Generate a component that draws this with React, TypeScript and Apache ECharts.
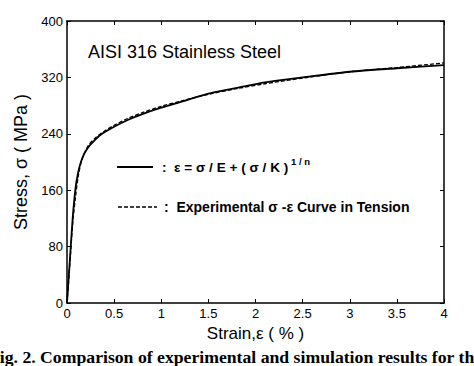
import React, { useEffect, useRef } from "react";
import * as echarts from "echarts";

const xTicks = [0, 0.5, 1, 1.5, 2, 2.5, 3, 3.5, 4];
const yTicks = [0, 80, 160, 240, 320, 400];

const modelStrain = [0, 0.03, 0.06, 0.08, 0.1, 0.13, 0.17, 0.22, 0.28, 0.35, 0.5, 0.65, 0.8, 1.0, 1.2, 1.5, 1.8, 2.1, 2.5, 3.0, 3.5, 4.0];
const modelStress = [0, 60, 120, 150, 172, 192, 208, 220, 229, 238, 250, 260, 268, 277, 285, 297, 305, 313, 320, 328, 333, 337.5];

const expStrain = [0, 0.03, 0.06, 0.09, 0.12, 0.16, 0.22, 0.3, 0.4, 0.5, 0.65, 0.8, 1.0, 1.2, 1.5, 1.8, 2.1, 2.5, 3.0, 3.5, 4.0];
const expStress = [0, 55, 112, 150, 180, 204, 222, 234, 244, 252, 262, 270, 279, 286, 296, 304, 311, 319, 328, 334, 340.5];

const FONT = "'Liberation Sans', Arial, sans-serif";

export default function App() {
  const ref = useRef<HTMLDivElement>(null);
  useEffect(() => {
    if (!ref.current) return;
    const chart = echarts.init(ref.current, undefined, { renderer: "svg" });
    const axisLine = { show: true, onZero: false, lineStyle: { color: "#000", width: 1.5 } };
    const axisTick = { show: true, inside: true, length: 4, lineStyle: { color: "#000", width: 1 } };
    chart.setOption({
      animation: false,
      backgroundColor: "#fff",
      grid: { left: 67, right: 30, top: 21, bottom: 63 },
      xAxis: [
        {
          type: "value", min: 0, max: 4, interval: 0.5,
          axisLine, axisTick, splitLine: { show: false },
          axisLabel: { color: "#000", fontFamily: FONT, fontSize: 13, margin: 4,
            formatter: (v: number) => (xTicks.includes(v) ? String(v) : "") },
          name: "Strain,ε ( % )", nameLocation: "middle", nameGap: 20,
          nameTextStyle: { color: "#000", fontFamily: FONT, fontSize: 17 },
        },
        {
          type: "value", min: 0, max: 4, interval: 0.5, position: "top",
          axisLine, axisTick, axisLabel: { show: false }, splitLine: { show: false },
        },
      ],
      yAxis: [
        {
          type: "value", min: 0, max: 400, interval: 80,
          axisLine, axisTick, splitLine: { show: false },
          axisLabel: { color: "#000", fontFamily: FONT, fontSize: 13, margin: 4,
            formatter: (v: number) => (yTicks.includes(v) ? String(v) : "") },
          name: "Stress, σ ( MPa )", nameLocation: "middle", nameGap: 24,
          nameTextStyle: { color: "#000", fontFamily: FONT, fontSize: 18 },
        },
        {
          type: "value", min: 0, max: 400, interval: 80, position: "right",
          axisLine, axisTick, axisLabel: { show: false }, splitLine: { show: false },
        },
      ],
      series: [
        {
          type: "line", name: "model", smooth: 0.3, symbol: "none",
          data: modelStrain.map((x, i) => [x, modelStress[i]]),
          lineStyle: { color: "#000", width: 1.8 },
        },
        {
          type: "line", name: "experimental", smooth: 0.3, symbol: "none",
          data: expStrain.map((x, i) => [x, expStress[i]]),
          lineStyle: { color: "#000", width: 1.3, type: [4, 2] },
        },
      ],
      graphic: [
        { type: "text", left: 88, top: 43, style: { text: "AISI 316 Stainless Steel", font: `18px ${FONT}`, fill: "#000" } },
        { type: "line", shape: { x1: 117, y1: 167, x2: 153, y2: 167 }, style: { stroke: "#000", lineWidth: 1.8 } },
        { type: "text", x: 162, y: 167, style: { text: ":  ε = σ / E + ( σ / K )", font: `bold 13.6px ${FONT}`, fill: "#000", verticalAlign: "middle" } },
        { type: "text", x: 291, y: 161, style: { text: "1 / n", font: `bold 9.5px ${FONT}`, fill: "#000", verticalAlign: "middle" } },
        { type: "line", shape: { x1: 118, y1: 207, x2: 157, y2: 207 }, style: { stroke: "#000", lineWidth: 1.3, lineDash: [4, 2] } },
        { type: "text", x: 164, y: 207, style: { text: ":  Experimental σ -ε Curve in Tension", font: `bold 14px ${FONT}`, fill: "#000", verticalAlign: "middle" } },
        { type: "text", x: -11, y: 357, style: { text: "Fig. 2. Comparison of experimental and simulation results for the", font: `bold 17.7px 'Liberation Serif', 'Times New Roman', serif`, fill: "#000", verticalAlign: "middle" } },
      ],
    });
    return () => chart.dispose();
  }, []);
  return <div ref={ref} style={{ width: 474, height: 366, position: "absolute", left: 0, top: 0 }} />;
}
